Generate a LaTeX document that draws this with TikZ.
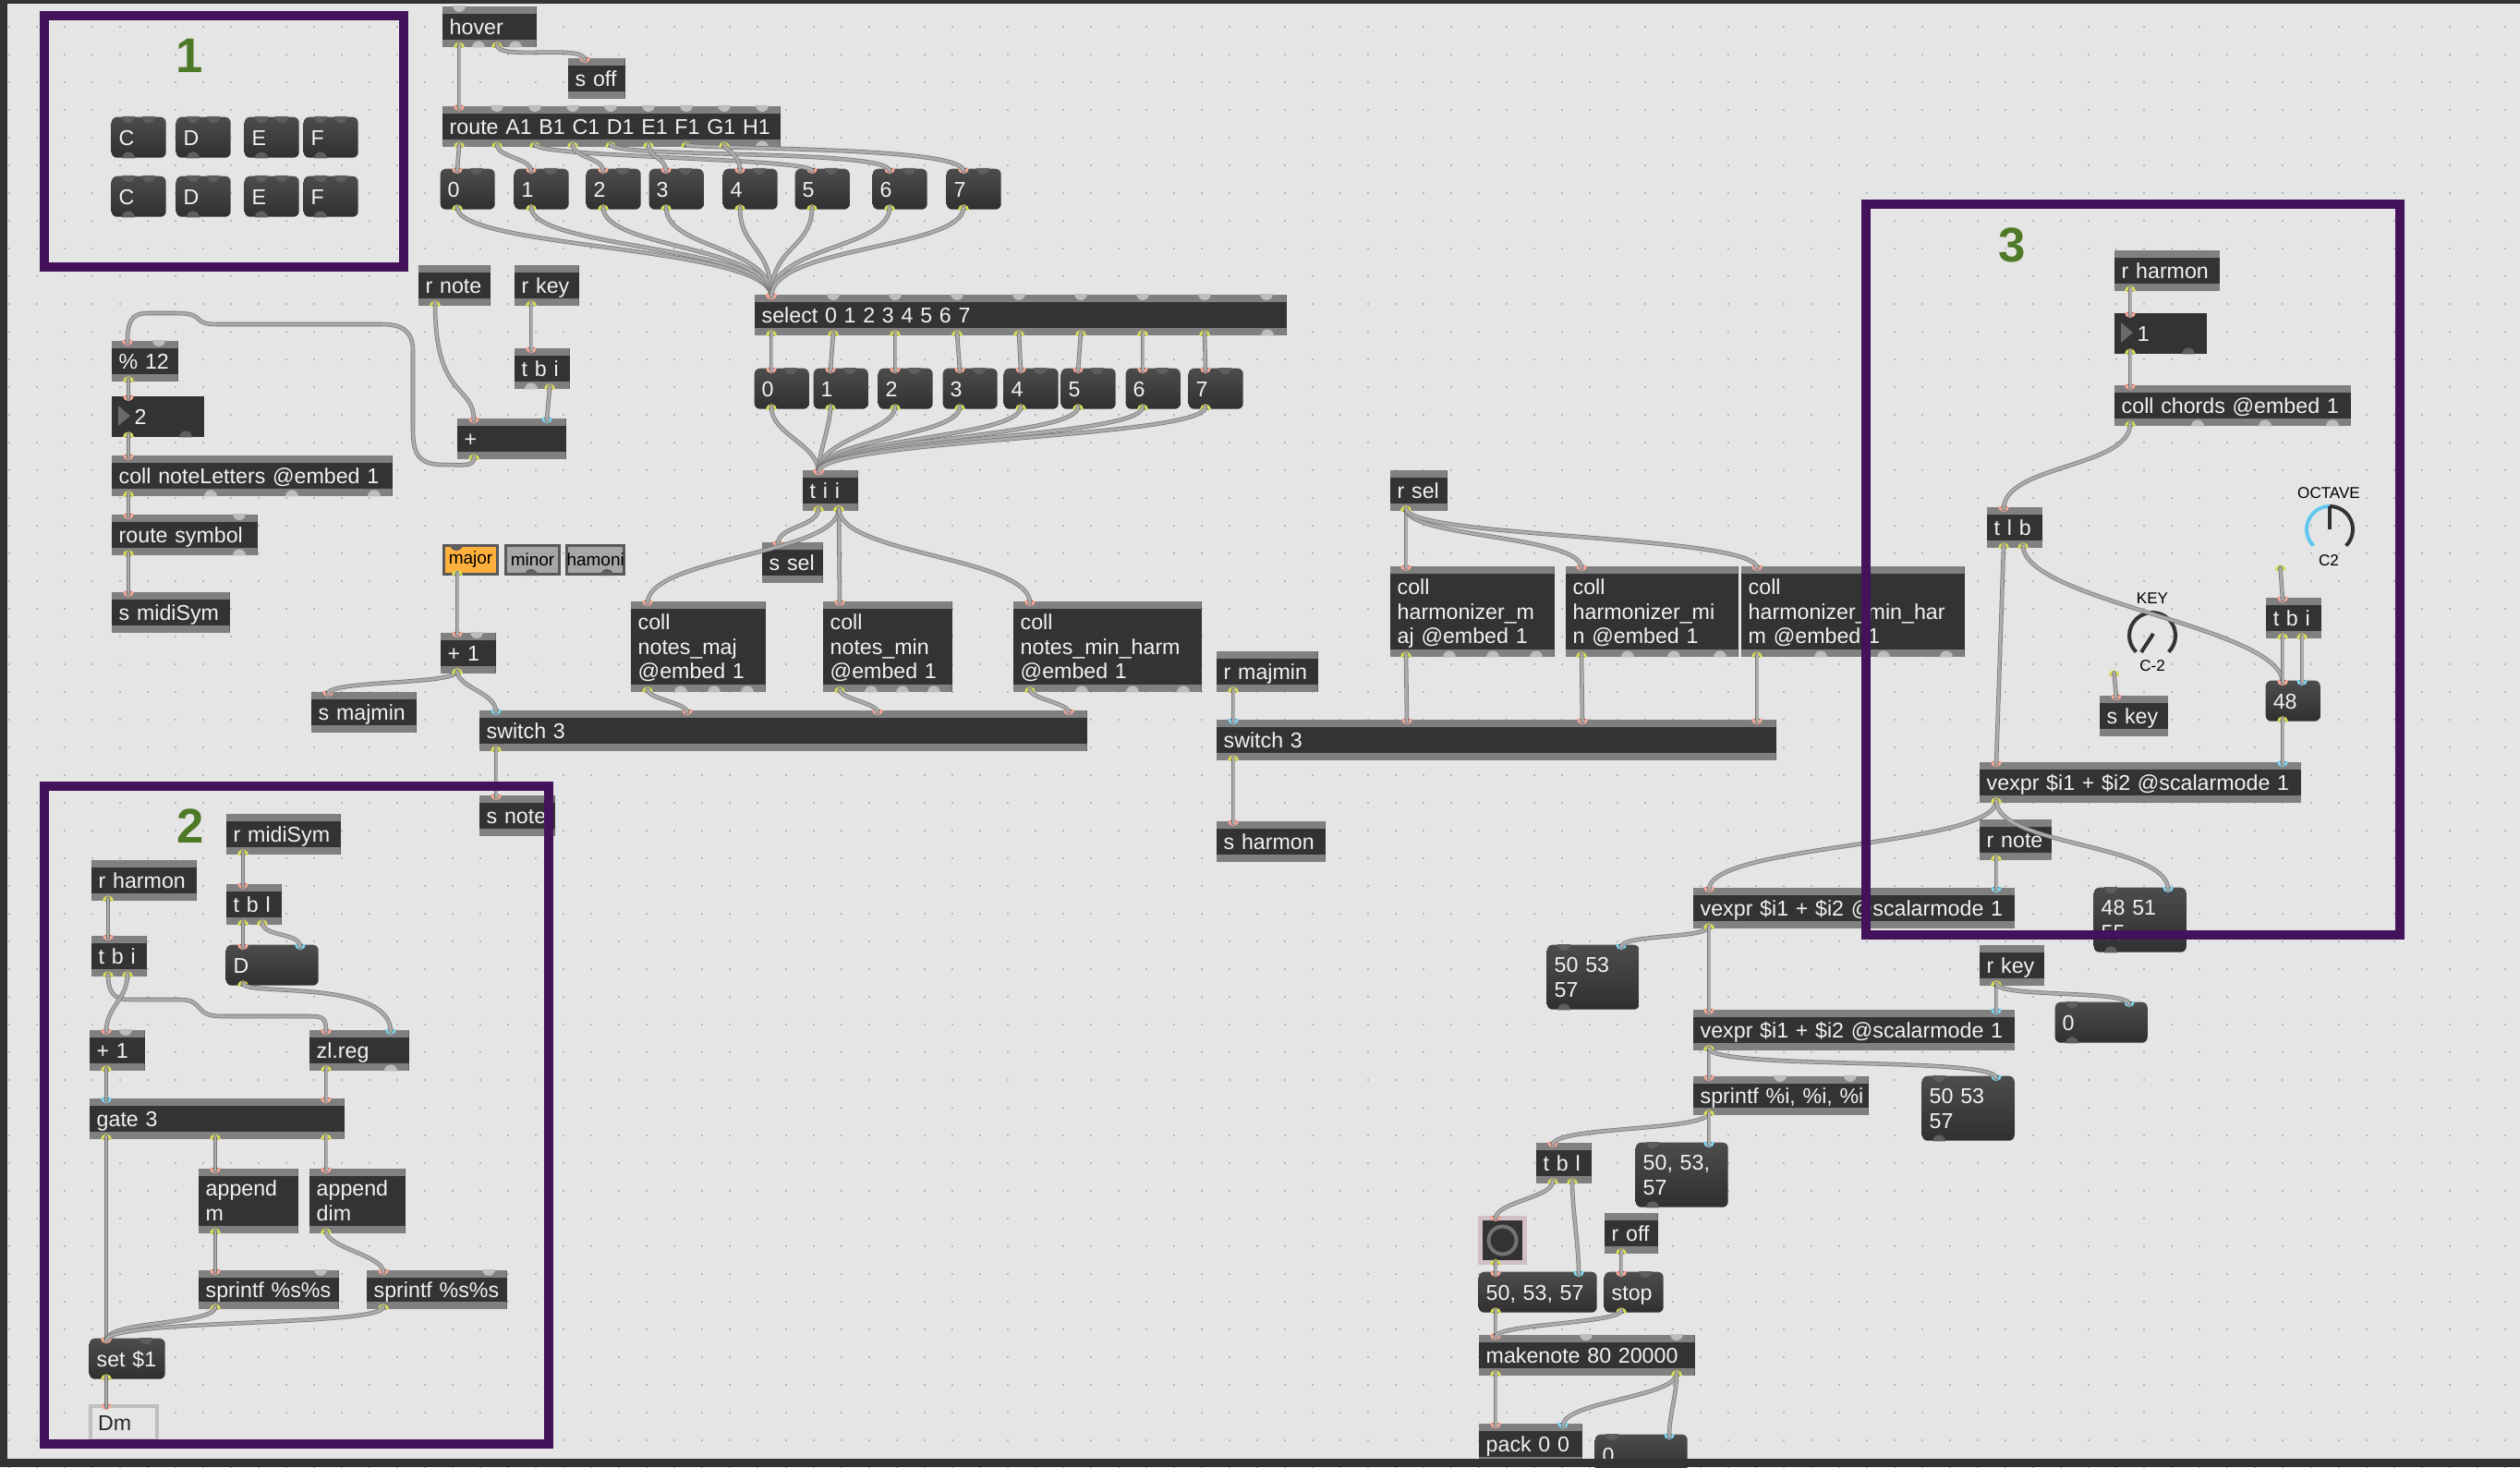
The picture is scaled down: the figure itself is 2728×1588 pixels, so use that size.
\documentclass[tikz,border=0pt]{standalone}
\usepackage{fontspec}
\setmainfont{Liberation Sans}
\usetikzlibrary{calc}
\definecolor{canvas}{HTML}{E5E5E5}
\definecolor{maxborder}{HTML}{333333}
\definecolor{griddot}{HTML}{B8B8B8}
\definecolor{maxdark}{HTML}{333333}
\definecolor{barfill}{HTML}{808080}
\definecolor{maxtext}{HTML}{F2F2F2}
\definecolor{msgtop}{HTML}{4C4C4C}
\definecolor{msgbot}{HTML}{303030}
\definecolor{bumplight}{HTML}{BDBDBD}
\definecolor{bumpdark}{HTML}{5E5E5E}
\definecolor{cordfill}{HTML}{ABABAB}
\definecolor{cordedge}{HTML}{787878}
\definecolor{inpink}{HTML}{F5A898}
\definecolor{incyan}{HTML}{7FD4EE}
\definecolor{outyellow}{HTML}{D8DC5A}
\definecolor{maxport}{HTML}{2A2A2A}
\definecolor{zonepurple}{HTML}{43125A}
\definecolor{zonegreen}{HTML}{4E7A27}
\definecolor{dialblue}{HTML}{62C8F0}
\definecolor{btnon}{HTML}{FFB03C}
\definecolor{btnoff}{HTML}{A6A6A6}
\definecolor{bangedge}{HTML}{D2BEC6}
\definecolor{bangfill}{HTML}{3E2A36}
\definecolor{numtri}{HTML}{6A6A6A}
\newcommand{\maxfont}{\fontsize{6.6pt}{7.5pt}\selectfont}
\newcommand{\topstrut}{\rule{0pt}{7pt}}
\newcommand{\inport}[3][inpink]{\draw[draw=#1,fill=maxport,line width=0.03cm] ($(#2.north west)+(#3,0)$) ++(-4.5,0) arc (180:0:4.5);}
\newcommand{\outport}[2]{\draw[draw=outyellow,fill=maxport,line width=0.03cm] ($(#1.south west)+(#2,0)$) ++(-4.5,0) arc (180:360:4.5);}
\newcommand{\wire}[7][inpink]{\outport{#2}{#3}\inport[#1]{#4}{#5}
  \draw[cord] ($(#2.south west)+(#3,-3)$) .. controls +(0,#6) and +(0,-#7) .. ($(#4.north west)+(#5,3)$);}
\newcommand{\topbump}[3][bumplight]{\foreach \d in {#3} \fill[#1] ($(#2.north west)+(\d,0)$) ++(-7,0) arc (180:0:7) -- cycle;}
\newcommand{\botbump}[3][bumplight]{\foreach \d in {#3} \fill[#1] ($(#2.south west)+(\d,0)$) ++(-7,0) arc (180:360:7) -- cycle;}
\begin{document}
\begin{tikzpicture}[x=0.01cm,y=-0.01cm,
    boxbase/.style 2 args={anchor=north west,inner xsep=0.08cm,inner ysep=0pt,text width=(#1-16)*0.01cm,
      minimum height=#2*0.01cm,align=left,text=maxtext,font=\maxfont,
      execute at begin node=\topstrut,execute at end node=\strut},
    objbox/.style 2 args={boxbase={#1}{#2},fill=maxdark,path picture={
      \fill[barfill] (path picture bounding box.north west) rectangle ([yshift=-0.08cm]path picture bounding box.north east);
      \fill[barfill] (path picture bounding box.south west) rectangle ([yshift=0.08cm]path picture bounding box.south east);}},
    numbox/.style 2 args={boxbase={#1}{#2},fill=maxdark},
    msgbox/.style 2 args={boxbase={#1}{#2},rounded corners=0.06cm,top color=msgtop,bottom color=msgbot},
    tabbtn/.style={anchor=north west,minimum width=0.58cm,minimum height=0.31cm,inner sep=0pt,draw=#1,
      line width=0.03cm,font=\fontsize{5.4pt}{6pt}\selectfont,text=black},
    dialtext/.style={font=\fontsize{4.85pt}{5pt}\selectfont,text=black,inner sep=0pt},
    zonenum/.style={font=\fontsize{15pt}{16pt}\selectfont\bfseries,text=zonegreen,inner sep=0pt},
    zoneframe/.style={draw=zonepurple,line width=0.1cm},
    cord/.style={draw=cordedge,double=cordfill,line width=0.22pt,double distance=0.85pt,line cap=round}]
  \useasboundingbox (0,0) rectangle (2728,1588);
  \fill[canvas] (0,0) rectangle (2728,1588);
  \foreach \y in {0,...,52}
    \draw[griddot,line width=0.02cm,dash pattern=on 0.02cm off 0.28cm] (9,29+30*\y) -- (2728,29+30*\y);

  % panel 1
  \foreach \y/\rw in {126/a,190/b}
    \foreach \x/\ch in {120/C,190/D,264/E,328/F}
      {\node [msgbox={59}{44}] (\ch\rw) at (\x,\y) {\ch};
      \topbump[bumpdark]{\ch\rw}{19,41}
      \botbump[bumpdark]{\ch\rw}{19}}

  % top row
  \node [objbox={102}{44}] (hover) at (478,6) {hover};
  \node [objbox={62}{44}] (soff) at (614,62) {s~off};
  \node [objbox={366}{44}] (route) at (478,114) {route~A1~B1~C1~D1~E1~F1~G1~H1};
  \foreach \n/\x in {0/476,1/556,2/634,3/702,4/782,5/860,6/944,7/1024}
    {\node [msgbox={59}{44}] (num\n) at (\x,182) {\n};
    \topbump[bumpdark]{num\n}{40}}
  \node [objbox={576}{44}] (select) at (816,318) {select 0 1 2 3 4 5 6 7};
  \foreach \n/\x in {0/816,1/880,2/950,3/1020,4/1086,5/1148,6/1218,7/1286}
    {\node [msgbox={59}{44}] (sel\n) at (\x,398) {\n};
    \topbump[bumpdark]{sel\n}{40}}
  \node [objbox={60}{44}] (tii) at (868,508) {t~i~i};
  \node [objbox={66}{44}] (ssel) at (824,586) {s~sel};

  % note letters
  \node [objbox={78}{44}] (rnote) at (452,286) {r~note};
  \node [objbox={70}{44}] (rkey) at (556,286) {r~key};
  \node [objbox={60}{44}] (tbikey) at (556,376) {t~b~i};
  \node [objbox={118}{44}] (plus) at (494,452) {+};
  \node [objbox={72}{44}] (pct) at (120,368) {\%~12};
  \node [numbox={100}{44}] (notenum) at (120,428) {\hspace*{0.17cm}2};
  \node [objbox={304}{44}] (notecoll) at (120,492) {coll~noteLetters~@embed~1};
  \node [objbox={158}{44}] (routesym) at (120,556) {route~symbol};
  \node [objbox={128}{44}] (smidi) at (120,640) {s~midiSym};

  % scale choice
  \node [tabbtn=black!65,fill=btnon] (btnmaj) at (479,589) {major};
  \node [tabbtn=black!65,fill=btnoff] (btnmin) at (546,589) {minor};
  \node [tabbtn=black!65,fill=btnoff] (btnham) at (612,589) {hamoni};
  \node [objbox={60}{44}] (plusone) at (476,684) {+~1};
  \node [objbox={114}{44}] (smajmin) at (336,748) {s~majmin};
  \node [objbox={146}{98}] (collmaj) at (682,650) {coll\\notes\_maj\\@embed~1};
  \node [objbox={140}{98}] (collmin) at (890,650) {coll\\notes\_min\\@embed~1};
  \node [objbox={204}{98}] (collharm) at (1096,650) {coll\\notes\_min\_harm\\@embed~1};
  \node [objbox={658}{44}] (switchnote) at (518,768) {switch~3};
  \node [objbox={82}{44}] (snote) at (518,860) {s~note};

  % harmonizer
  \node [objbox={62}{44}] (rsel) at (1504,508) {r~sel};
  \node [objbox={110}{44}] (rmajmin) at (1316,704) {r~majmin};
  \node [objbox={178}{98}] (harmmaj) at (1504,612) {coll\\harmonizer\_m\\aj~@embed~1};
  \node [objbox={187}{98}] (harmmin) at (1694,612) {coll\\harmonizer\_mi\\n~@embed~1};
  \node [objbox={242}{98}] (harmhar) at (1884,612) {coll\\harmonizer\_min\_har\\m~@embed~1};
  \node [objbox={606}{44}] (switchharm) at (1316,778) {switch~3};
  \node [objbox={118}{44}] (sharmon) at (1316,888) {s~harmon};

  % panel 2
  \node [objbox={124}{44}] (rmidi) at (244,880) {r~midiSym};
  \node [objbox={114}{44}] (rharmA) at (98,930) {r~harmon};
  \node [objbox={60}{44}] (tblsym) at (244,956) {t~b~l};
  \node [msgbox={100}{44}] (dmsg) at (244,1022) {D};
  \node [objbox={60}{44}] (tbiharm) at (98,1012) {t~b~i};
  \node [objbox={60}{44}] (plusgate) at (96,1114) {+~1};
  \node [objbox={108}{44}] (zlreg) at (334,1114) {zl.reg};
  \node [objbox={276}{44}] (gate) at (96,1188) {gate~3};
  \node [objbox={108}{70}] (appm) at (214,1264) {append\\m};
  \node [objbox={104}{70}] (appdim) at (334,1264) {append\\dim};
  \node [objbox={152}{42}] (sprA) at (214,1374) {sprintf~\%s\%s};
  \node [objbox={152}{42}] (sprB) at (396,1374) {sprintf~\%s\%s};
  \node [msgbox={82}{44}] (setmsg) at (96,1448) {set~\$1};
  \node [boxbase={72}{37},fill=canvas,draw=black!25,line width=0.04cm,text=black!85] (dm) at (96,1520) {Dm};

  % panel 3
  \node [objbox={114}{44}] (rharmB) at (2288,270) {r~harmon};
  \node [numbox={100}{44}] (chordnum) at (2288,338) {\hspace*{0.17cm}1};
  \node [objbox={256}{44}] (chords) at (2288,416) {coll~chords~@embed~1};
  \node [objbox={60}{44}] (tlb) at (2150,548) {t~l~b};
  \node [objbox={60}{44}] (tbioct) at (2452,646) {t~b~i};
  \node [msgbox={59}{44}] (octnum) at (2452,736) {48};
  \node [objbox={74}{44}] (skey) at (2272,752) {s~key};
  \node [objbox={348}{44}] (vexprA) at (2142,824) {vexpr~\$i1~+~\$i2~@scalarmode~1};
  \node [objbox={78}{44}] (rnoteB) at (2142,886) {r~note};
  \node [msgbox={100}{70}] (msgA) at (2266,960) {48~51\\55};
  \foreach \nb in {notenum,chordnum}
    {\fill[numtri] ($(\nb.north west)+(8,11)$) -- +(13,11) -- +(0,22) -- cycle;}
  \node [inner sep=0pt] (octknob) at (2471,615) {};
  \node [inner sep=0pt] (keyknob) at (2291,729) {};
  \node [dialtext] (keytop) at (2330,648) {KEY};
  \node [dialtext] (keybot) at (2330,721) {C-2};
  \node [dialtext] (octtop) at (2521,534) {OCTAVE};
  \node [dialtext] (octbot) at (2521,607) {C2};
  \coordinate (keydial) at (2330,688);
  \coordinate (octdial) at (2522,573);
  \draw[line width=0.04cm,maxdark] (keydial) ++(135:25) arc (135:405:25);
  \draw[line width=0.04cm,maxdark] (2331,686) -- (2318,706);
  \draw[line width=0.04cm,dialblue] (octdial) ++(135:25) arc (135:270:25);
  \draw[line width=0.04cm,maxdark] (octdial) ++(270:25) arc (270:405:25);
  \draw[line width=0.04cm,maxdark] (2522,548) -- (2522,573);

  % output chain
  \node [objbox={348}{44}] (vexprB) at (1832,960) {vexpr~\$i1~+~\$i2~@scalarmode~1};
  \node [msgbox={100}{70}] (msgB) at (1674,1022) {50~53\\57};
  \node [objbox={70}{44}] (rkeyB) at (2142,1022) {r~key};
  \node [msgbox={100}{44}] (zeroA) at (2224,1084) {0};
  \node [objbox={348}{44}] (vexprC) at (1832,1092) {vexpr~\$i1~+~\$i2~@scalarmode~1};
  \node [objbox={190}{42}] (sprC) at (1832,1164) {sprintf~\%i,~\%i,~\%i};
  \node [msgbox={100}{70}] (msgC) at (2080,1164) {50~53\\57};
  \node [objbox={60}{44}] (tblout) at (1662,1236) {t~b~l};
  \node [msgbox={100}{70}] (msgD) at (1770,1236) {50,~53,\\57};
  \node [objbox={58}{44}] (roff) at (1736,1312) {r~off};
  \node [draw=bangedge,line width=0.05cm,fill=bangfill,minimum size=0.48cm,inner sep=0pt,anchor=north west] (bang) at (1600,1316) {};
  \fill[maxdark] ($(bang.north west)+(5,5)$) rectangle ($(bang.south east)+(-5,-5)$);
  \draw[black!55,line width=0.04cm] (bang.center) circle (15);
  \node [msgbox={128}{44}] (chordmsg) at (1600,1376) {50,~53,~57};
  \node [msgbox={64}{44}] (stopmsg) at (1736,1376) {stop};
  \node [objbox={234}{44}] (makenote) at (1600,1444) {makenote~80~20000};
  \node [objbox={112}{44}] (pack) at (1600,1540) {pack~0~0};
  \node [msgbox={100}{44}] (zeroB) at (1726,1552) {0};

  % unused inlets and outlets
  \topbump{hover}{19}\botbump{hover}{40,80}
  \topbump{route}{60,101,142,183,224,265,306,347}\botbump{route}{347}
  \topbump{select}{86,153,220,287,354,421,488,555}\botbump{select}{556}
  \botbump{tbikey}{19}\topbump{pct}{52}\botbump[bumpdark]{notenum}{81}
  \botbump{notecoll}{108,196,285}\topbump{routesym}{139}\botbump{routesym}{139}
  \topbump[bumpdark]{btnmaj}{15}\botbump[bumpdark]{btnmin}{29}\botbump[bumpdark]{btnham}{45}
  \topbump{plusone}{40}\botbump{collmaj}{55,91,127}\botbump{collmin}{53,87,121}\botbump{collharm}{75,130,185}
  \botbump{harmmaj}{65,112,159}\botbump{harmmin}{68,118,168}\botbump{harmhar}{87,155,223}
  \topbump{plusgate}{40}\botbump{zlreg}{89}\topbump{sprA}{133}\topbump{sprB}{133}\topbump[bumpdark]{setmsg}{62}
  \botbump[bumpdark]{chordnum}{81}\botbump{chords}{91,164,237}
  \topbump[bumpdark]{msgA}{19}\botbump[bumpdark]{msgA}{19}\topbump[bumpdark]{msgB}{19}\botbump[bumpdark]{msgB}{19}
  \topbump[bumpdark]{msgC}{19}\botbump[bumpdark]{msgC}{19}\topbump[bumpdark]{msgD}{19}\botbump[bumpdark]{msgD}{19}
  \topbump[bumpdark]{zeroA}{19}\botbump[bumpdark]{zeroA}{19}\topbump[bumpdark]{zeroB}{19}\topbump{sprC}{95,171}
  \topbump[bumpdark]{stopmsg}{45}\topbump{makenote}{117,215}

  % cords, top
  \wire{hover}{19}{route}{19}{0}{0}
  \wire{hover}{60}{soff}{19}{18}{18}
  \foreach \k/\n/\ca/\cb in {0/0/4/4,1/1/14/14,2/5/14/14,3/2/14/14,4/6/15/24,5/3/14/14,6/7/6/28,7/4/6/20}
    {\wire{route}{19+41*\k}{num\n}{19}{\ca}{\cb}}
  \foreach \n in {0,...,7}
    {\wire{num\n}{19}{select}{19}{45}{55}}
  \foreach \k in {0,...,7}
    {\wire{select}{19+67*\k}{sel\k}{19}{0}{0}}
  \foreach \n/\ca/\cb in {0/30/30,1/20/20,2/26/36,3/32/36,4/34/36,5/34/36,6/34/36,7/34/36}
    {\wire{sel\n}{19}{tii}{18}{\ca}{\cb}}
  \wire{tii}{18}{ssel}{18}{20}{20}
  \wire{tii}{40}{collmaj}{19}{50}{50}
  \wire{tii}{40}{collmin}{19}{0}{0}
  \wire{tii}{40}{collharm}{19}{50}{50}
  \wire{collmaj}{19}{switchnote}{226}{10}{10}
  \wire{collmin}{19}{switchnote}{432}{10}{10}
  \wire{collharm}{19}{switchnote}{639}{10}{10}
  \wire{btnmaj}{16}{plusone}{19}{0}{0}
  \wire{plusone}{19}{smajmin}{19}{15}{15}
  \wire[incyan]{plusone}{19}{switchnote}{19}{18}{22}
  \wire{switchnote}{19}{snote}{19}{0}{0}

  % cords, note letters
  \wire{rnote}{19}{plus}{19}{105}{40}
  \wire{rkey}{19}{tbikey}{19}{0}{0}
  \wire[incyan]{tbikey}{39}{plus}{98}{5}{5}
  \outport{plus}{19}\inport{pct}{18}
  \draw[cord] ($(plus.south west)+(19,-3)$) .. controls (514,506) and (500,503) .. (480,503) .. controls (452,503) and (447,490) .. (447,465) -- (447,380) .. controls (447,358) and (435,351) .. (413,351) -- (235,351) .. controls (205,351) and (225,339) .. (190,339) -- (160,339) .. controls (142,339) and (138,348) .. ($(pct.north west)+(18,3)$);
  \wire{pct}{19}{notenum}{19}{0}{0}
  \wire{notenum}{19}{notecoll}{19}{0}{0}
  \wire{notecoll}{19}{routesym}{19}{0}{0}
  \wire{routesym}{19}{smidi}{19}{0}{0}

  % cords, harmonizer
  \wire{rsel}{18}{harmmaj}{18}{0}{0}
  \wire{rsel}{18}{harmmin}{18}{32}{36}
  \wire{rsel}{18}{harmhar}{18}{32}{36}
  \wire{harmmaj}{18}{switchharm}{207}{0}{0}
  \wire{harmmin}{18}{switchharm}{397}{0}{0}
  \wire{harmhar}{18}{switchharm}{586}{0}{0}
  \wire[incyan]{rmajmin}{19}{switchharm}{19}{0}{0}
  \wire{switchharm}{19}{sharmon}{19}{0}{0}

  % cords, panel 2
  \wire{rmidi}{19}{tblsym}{19}{0}{0}
  \wire{tblsym}{19}{dmsg}{19}{0}{0}
  \wire[incyan]{tblsym}{40}{dmsg}{81}{16}{16}
  \wire[incyan]{dmsg}{19}{zlreg}{89}{14}{58}
  \wire{rharmA}{19}{tbiharm}{19}{0}{0}
  \outport{tbiharm}{19}\inport{zlreg}{19}
  \draw[cord] ($(tbiharm.south west)+(19,-3)$) .. controls (117,1076) and (125,1082) .. (140,1082) -- (195,1082) .. controls (222,1082) and (208,1100) .. (240,1100) -- (335,1100) .. controls (350,1100) and (353,1102) .. ($(zlreg.north west)+(19,3)$);
  \wire{tbiharm}{40}{plusgate}{19}{28}{28}
  \wire[incyan]{plusgate}{19}{gate}{19}{0}{0}
  \wire{zlreg}{19}{gate}{257}{0}{0}
  \wire{gate}{19}{setmsg}{19}{0}{0}
  \wire{gate}{137}{appm}{19}{0}{0}
  \wire{gate}{257}{appdim}{19}{0}{0}
  \wire{appm}{19}{sprA}{19}{0}{0}
  \wire{appdim}{19}{sprB}{19}{18}{18}
  \wire{sprA}{19}{setmsg}{19}{20}{22}
  \wire{sprB}{19}{setmsg}{19}{22}{24}
  \wire{setmsg}{19}{dm}{19}{0}{0}

  % cords, panel 3
  \wire{rharmB}{18}{chordnum}{18}{0}{0}
  \wire{chordnum}{18}{chords}{18}{0}{0}
  \wire{chords}{18}{tlb}{19}{48}{48}
  \wire{tlb}{19}{vexprA}{19}{0}{0}
  \wire{tlb}{40}{octnum}{19}{60}{60}
  \wire{octknob}{0}{tbioct}{19}{0}{0}
  \wire{tbioct}{19}{octnum}{19}{0}{0}
  \wire[incyan]{tbioct}{40}{octnum}{40}{0}{0}
  \wire[incyan]{octnum}{19}{vexprA}{329}{0}{0}
  \wire{keyknob}{0}{skey}{19}{0}{0}
  \wire{vexprA}{19}{vexprB}{18}{50}{50}
  \wire[incyan]{vexprA}{19}{msgA}{81}{50}{50}

  % cords, output chain
  \wire[incyan]{rnoteB}{19}{vexprB}{329}{0}{0}
  \wire[incyan]{vexprB}{18}{msgB}{81}{14}{14}
  \wire{vexprB}{18}{vexprC}{18}{0}{0}
  \wire[incyan]{rkeyB}{19}{vexprC}{329}{0}{0}
  \wire[incyan]{rkeyB}{19}{zeroA}{81}{16}{16}
  \wire{vexprC}{18}{sprC}{18}{0}{0}
  \wire[incyan]{vexprC}{18}{msgC}{81}{24}{24}
  \wire{sprC}{18}{tblout}{19}{20}{20}
  \wire[incyan]{sprC}{18}{msgD}{80}{0}{0}
  \wire{tblout}{19}{bang}{19}{18}{18}
  \wire[incyan]{tblout}{40}{chordmsg}{109}{30}{30}
  \wire{bang}{19}{chordmsg}{19}{0}{0}
  \wire{roff}{19}{stopmsg}{19}{0}{0}
  \wire{chordmsg}{19}{makenote}{19}{0}{0}
  \wire{stopmsg}{19}{makenote}{19}{14}{14}
  \wire{makenote}{19}{pack}{19}{0}{0}
  \wire[incyan]{makenote}{215}{pack}{92}{26}{26}
  \wire[incyan]{makenote}{215}{zeroB}{81}{25}{25}
  \outport{pack}{19}

  % panel frames and numbers
  \draw[zoneframe] (48,17) rectangle (437,289);
  \draw[zoneframe] (48,851) rectangle (594,1563);
  \draw[zoneframe] (2020,221) rectangle (2598,1012);
  \node [zonenum] (one) at (205,60) {1};
  \node [zonenum] (two) at (206,894) {2};
  \node [zonenum] (three) at (2178,265) {3};

  % window edge
  \fill[maxborder] (0,0) rectangle (2728,4);
  \fill[maxborder] (0,0) rectangle (8,1588);
  \fill[maxborder] (0,1578.5) rectangle (2728,1588);
\end{tikzpicture}
\end{document}
